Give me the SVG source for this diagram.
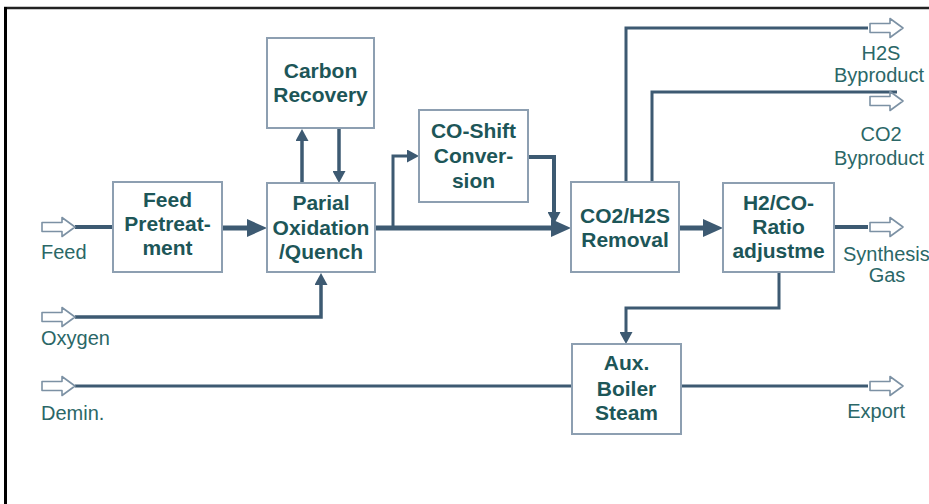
<svg xmlns="http://www.w3.org/2000/svg" width="929" height="504" viewBox="0 0 929 504">
<style>
.box{fill:#fff;stroke:#8d9fb1;stroke-width:2}
.lbl{font-family:"Liberation Sans",Arial,sans-serif;font-weight:bold;font-size:21px;fill:#1d5658;text-anchor:middle}
.out{font-family:"Liberation Sans",Arial,sans-serif;font-size:20px;fill:#2b6767}
.ln{fill:none;stroke:#3d5a72;stroke-linejoin:miter}
.hollow{fill:#fff;stroke:#7c91a4;stroke-width:1.6;stroke-linejoin:round}
</style>
<defs>
<marker id="big" markerUnits="userSpaceOnUse" markerWidth="20" markerHeight="18" refX="10" refY="9" orient="auto"><path d="M0,0 L20,9 L0,18 Z" fill="#3d5a72"/></marker>
<marker id="sm" markerUnits="userSpaceOnUse" markerWidth="12" markerHeight="13" refX="6" refY="6.5" orient="auto"><path d="M0,0 L12,6.5 L0,13 Z" fill="#3d5a72"/></marker>
<path id="ha" d="M-33,-4.5 L-13,-4.5 L-13,-9.5 L0,0 L-13,9.5 L-13,4.5 L-33,4.5 Z"/>
</defs>
<rect width="929" height="504" fill="#fff"/>
<line x1="4" y1="8" x2="929" y2="8" stroke="#222" stroke-width="2.5"/>
<line x1="5.5" y1="7" x2="5.5" y2="504" stroke="#000" stroke-width="3"/>

<g id="connectors">
<line class="ln" x1="75" y1="227" x2="113" y2="227" stroke-width="4"/>
<line class="ln" x1="222" y1="228" x2="257" y2="228" stroke-width="5" marker-end="url(#big)"/>
<polyline class="ln" points="75,317 321,317 321,279" stroke-width="3.5" marker-end="url(#sm)"/>
<line class="ln" x1="302" y1="183" x2="302" y2="135" stroke-width="3.5" marker-end="url(#sm)"/>
<line class="ln" x1="339" y1="128" x2="339" y2="177" stroke-width="3.5" marker-end="url(#sm)"/>
<line class="ln" x1="375" y1="228" x2="561" y2="228" stroke-width="5" marker-end="url(#big)"/>
<polyline class="ln" points="393,228 393,156 413,156" stroke-width="3" marker-end="url(#sm)"/>
<polyline class="ln" points="528,157 554,157 554,218" stroke-width="4" marker-end="url(#sm)"/>
<line class="ln" x1="679" y1="228" x2="713" y2="228" stroke-width="5" marker-end="url(#big)"/>
<line class="ln" x1="834" y1="227" x2="868" y2="227" stroke-width="4"/>
<polyline class="ln" points="626,182 626,28 868,28" stroke-width="3"/>
<polyline class="ln" points="652,182 652,92 897,92" stroke-width="3"/>
<polyline class="ln" points="779,272 779,308 626,308 626,338" stroke-width="3" marker-end="url(#sm)"/>
<line class="ln" x1="75" y1="386" x2="572" y2="386" stroke-width="3"/>
<line class="ln" x1="681" y1="386" x2="868" y2="386" stroke-width="3"/>
<use href="#ha" class="hollow" x="75" y="227"/>
<use href="#ha" class="hollow" x="75" y="317"/>
<use href="#ha" class="hollow" x="75" y="386"/>
<use href="#ha" class="hollow" x="903" y="28"/>
<use href="#ha" class="hollow" x="903" y="101"/>
<use href="#ha" class="hollow" x="903" y="227"/>
<use href="#ha" class="hollow" x="903" y="386"/>
</g>

<g id="feed-pretreatment">
<rect class="box" x="113" y="182" width="109" height="90"/>
<text class="lbl" x="167.5" y="207">Feed</text>
<text class="lbl" x="167.5" y="231">Pretreat-</text>
<text class="lbl" x="167.5" y="255">ment</text>
</g>
<g id="carbon-recovery">
<rect class="box" x="267" y="38" width="107" height="90"/>
<text class="lbl" x="320.5" y="78">Carbon</text>
<text class="lbl" x="320.5" y="102">Recovery</text>
</g>
<g id="partial-oxidation">
<rect class="box" x="267" y="183" width="108" height="89"/>
<text class="lbl" x="321" y="210">Parial</text>
<text class="lbl" x="321" y="235">Oxidation</text>
<text class="lbl" x="321" y="259">/Quench</text>
</g>
<g id="co-shift">
<rect class="box" x="419" y="110" width="109" height="92"/>
<text class="lbl" x="473.5" y="138">CO-Shift</text>
<text class="lbl" x="473.5" y="163">Conver-</text>
<text class="lbl" x="473.5" y="188">sion</text>
</g>
<g id="co2-h2s-removal">
<rect class="box" x="571" y="182" width="108" height="90"/>
<text class="lbl" x="625" y="223">CO2/H2S</text>
<text class="lbl" x="625" y="247">Removal</text>
</g>
<g id="h2-co-ratio">
<rect class="box" x="723" y="183" width="111" height="89"/>
<text class="lbl" x="778.5" y="210">H2/CO-</text>
<text class="lbl" x="778.5" y="234">Ratio</text>
<text class="lbl" x="778.5" y="258">adjustme</text>
</g>
<g id="aux-boiler">
<rect class="box" x="572" y="344" width="109" height="90"/>
<text class="lbl" x="626.5" y="370">Aux.</text>
<text class="lbl" x="626.5" y="396">Boiler</text>
<text class="lbl" x="626.5" y="420">Steam</text>
</g>

<g id="labels">
<text class="out" x="41" y="259">Feed</text>
<text class="out" x="41" y="345">Oxygen</text>
<text class="out" x="41" y="420">Demin.</text>
<text class="out" x="905" y="418" text-anchor="end">Export</text>
<text class="out" x="881" y="60" text-anchor="middle">H2S</text>
<text class="out" x="834" y="82">Byproduct</text>
<text class="out" x="881" y="141" text-anchor="middle">CO2</text>
<text class="out" x="834" y="165">Byproduct</text>
<text class="out" x="843" y="261">Synthesis</text>
<text class="out" x="887" y="282" text-anchor="middle">Gas</text>
</g>
</svg>
